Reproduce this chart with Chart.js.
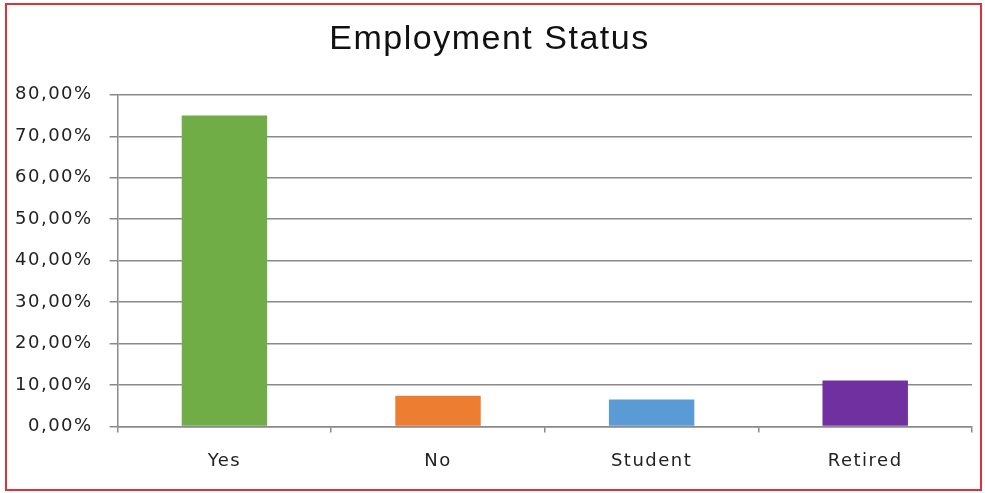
<!DOCTYPE html>
<html lang="en">
<head>
    <meta charset="utf-8">
    <title>Employment Status</title>
    <style>
        html, body { margin: 0; padding: 0; background: #fff; }
        .chart-wrap { position: relative; width: 985px; height: 493px; }
        .chart-wrap canvas { position: absolute; left: 0; top: 0; }
        .frame {
            position: absolute; left: 5px; top: 3px; right: 3px; bottom: 2px;
            border: 2px solid #d9343b; pointer-events: none;
        }
    </style>
</head>
<body>
    <div class="chart-wrap">
        <canvas id="employmentChart" width="985" height="493"></canvas>
        <div class="frame"></div>
    </div>

    <script src="https://cdn.jsdelivr.net/npm/chart.js"></script>
    <script>
        const categories = ['Yes', 'No', 'Student', 'Retired'];
        const shares = [75.0, 7.4, 6.5, 11.1];
        const barColors = ['#70ad47', '#ed7d31', '#5b9bd5', '#7030a0'];
        const yTickLabels = ['0,00%', '10,00%', '20,00%', '30,00%', '40,00%', '50,00%', '60,00%', '70,00%', '80,00%'];

        // wider letter spacing like the original picture
        const spacing = {
            id: 'spacing',
            beforeInit(chart) { chart.ctx.letterSpacing = '1.5px'; },
            beforeDraw(chart) { chart.ctx.letterSpacing = '1.5px'; }
        };

        const ctx = document.getElementById('employmentChart').getContext('2d');
        new Chart(ctx, {
            type: 'bar',
            data: {
                labels: categories,
                datasets: [{
                    label: 'Employment Status',
                    data: shares,
                    backgroundColor: barColors,
                    borderWidth: 0,
                    barPercentage: 0.4,
                    categoryPercentage: 1.0
                }]
            },
            options: {
                responsive: false,
                animation: false,
                layout: { padding: { left: 7, right: 13, top: 5, bottom: 3 } },
                plugins: {
                    legend: { display: false },
                    tooltip: { enabled: false },
                    title: {
                        display: true,
                        text: 'Employment Status',
                        color: '#111',
                        font: { family: 'Liberation Sans', size: 34, weight: 'normal' },
                        padding: { top: 14, bottom: 35 }
                    }
                },
                scales: {
                    x: {
                        grid: {
                            display: true,
                            offset: true,
                            drawOnChartArea: false,
                            drawTicks: true,
                            tickLength: 6,
                            color: '#8a8a8a',
                            lineWidth: 1.5
                        },
                        border: { display: true, color: '#8a8a8a', width: 1.5 },
                        ticks: {
                            color: '#222',
                            padding: 18,
                            font: { family: 'DejaVu Sans', size: 18 }
                        }
                    },
                    y: {
                        min: 0,
                        max: 80,
                        ticks: {
                            stepSize: 10,
                            color: '#222',
                            padding: 17,
                            font: { family: 'DejaVu Sans', size: 18 },
                            callback: (value, index) => yTickLabels[index]
                        },
                        grid: {
                            color: '#8a8a8a',
                            lineWidth: 1.5,
                            drawTicks: true,
                            tickLength: 8
                        },
                        border: { display: true, color: '#8a8a8a', width: 1.5 }
                    }
                }
            },
            plugins: [spacing]
        });
    </script>
</body>
</html>
